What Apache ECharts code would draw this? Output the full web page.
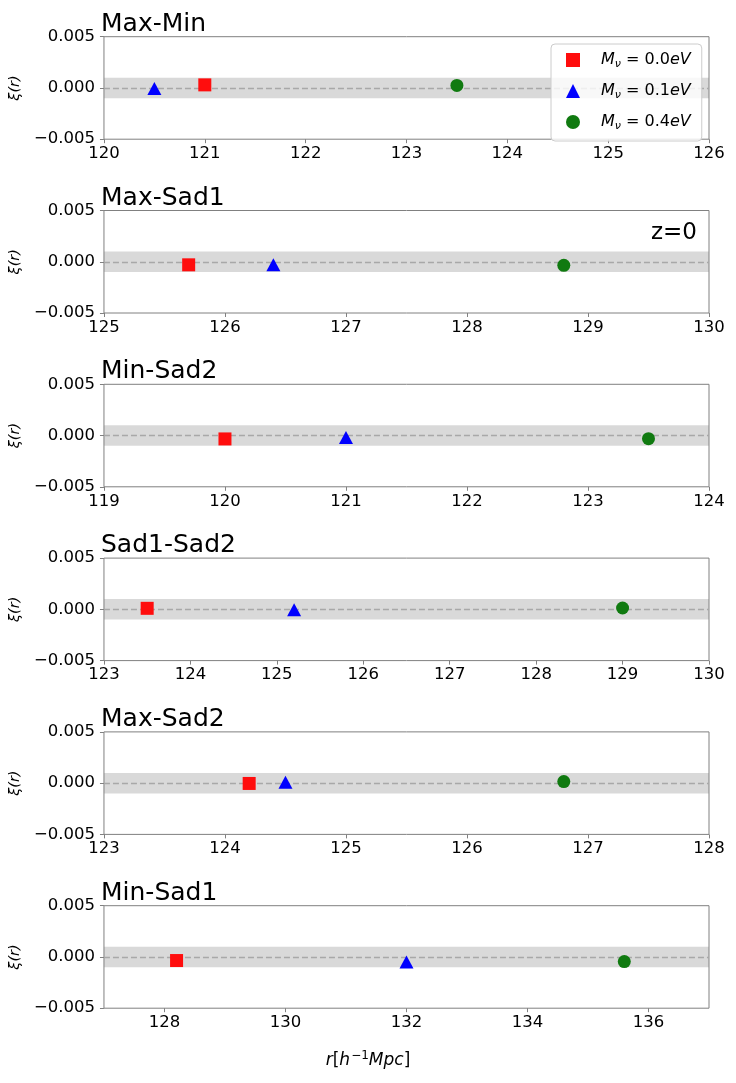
<!DOCTYPE html>
<html>
<head>
<meta charset="utf-8">
<script src="https://cdn.jsdelivr.net/npm/echarts@6/dist/echarts.min.js"></script>
<style>
html,body{margin:0;padding:0;background:#fff;}
#chart{width:736px;height:1083px;}
</style>
</head>
<body>
<div id="chart"></div>
<script>
// ---- data ----
const panelTitles = ['Max-Min', 'Max-Sad1', 'Min-Sad2', 'Sad1-Sad2', 'Max-Sad2', 'Min-Sad1'];
const xMin = [120, 125, 119, 123, 123, 127];
const xMax = [126, 130, 124, 130, 128, 137];
const xTicks = [
  [120, 121, 122, 123, 124, 125, 126],
  [125, 126, 127, 128, 129, 130],
  [119, 120, 121, 122, 123, 124],
  [123, 124, 125, 126, 127, 128, 129, 130],
  [123, 124, 125, 126, 127, 128],
  [128, 130, 132, 134, 136]
];
const yTicks = [-0.005, 0.0, 0.005];
// M_nu = 0.0 eV (red squares)
const r00  = [121.0, 125.7, 120.0, 123.5, 124.2, 128.2];
const xi00 = [0.0003, -0.0003, -0.00033, 0.0001, -0.00003, -0.00035];
// M_nu = 0.1 eV (blue triangles)
const r01  = [120.5, 126.4, 121.0, 125.2, 124.5, 132.0];
const xi01 = [-0.00005, -0.0003, -0.0002, -0.00005, 0.0001, -0.0005];
// M_nu = 0.4 eV (green circles)
const r04  = [123.5, 128.8, 123.5, 129.0, 126.8, 135.6];
const xi04 = [0.00025, -0.00035, -0.0003, 0.00013, 0.00015, -0.00045];
const bandLow = -0.001, bandHigh = 0.001;
const seriesNames = ['M0.0', 'M0.1', 'M0.4'];
const legendValues = ['0.0', '0.1', '0.4'];

// ---- layout ----
const FONT = 'DejaVu Sans';
const gridLeft = 98, gridWidth = 611, gridHeight = 102.5;
const gridTops = [36.7, 210.5, 384.3, 558.1, 731.9, 905.7];
const spine = '#808080';

const grids = [], xAxes = [], yAxes = [], series = [], titles = [];
panelTitles.forEach((t, i) => {
  grids.push({left: gridLeft, top: gridTops[i], width: gridWidth, height: gridHeight,
    show: true, borderColor: spine, borderWidth: 1, backgroundColor: 'transparent'});
  titles.push({text: t, left: gridLeft - 2, top: gridTops[i] - 30,
    textStyle: {fontFamily: FONT, fontSize: 25, fontWeight: 'normal', color: '#000'}});
  xAxes.push({type: 'value', gridIndex: i, min: xMin[i], max: xMax[i],
    axisLine: {show: false, onZero: false},
    axisTick: {show: true, length: 4, lineStyle: {color: spine}, customValues: xTicks[i]},
    axisLabel: {fontFamily: FONT, fontSize: 16.5, color: '#000', margin: 6, customValues: xTicks[i],
      showMinLabel: true, showMaxLabel: true},
    splitLine: {show: false}});
  yAxes.push({type: 'value', gridIndex: i, min: yTicks[0], max: yTicks[2], interval: yTicks[2],
    name: 'ξ(r)', nameLocation: 'middle', nameGap: 80, nameRotate: 90,
    nameTextStyle: {fontFamily: FONT, fontSize: 14.5, fontStyle: 'italic', color: '#000'},
    axisLine: {show: false, onZero: false},
    axisTick: {show: true, length: 4, lineStyle: {color: spine}},
    axisLabel: {fontFamily: FONT, fontSize: 16.5, color: '#000', margin: 9,
      formatter: v => (Math.abs(v) < 1e-12 ? '0.000' : (v < 0 ? '\u2212' : '') + Math.abs(v).toFixed(3))},
    splitLine: {show: false}});
  // band + zero line carrier
  series.push({type: 'scatter', name: '_band' + i, xAxisIndex: i, yAxisIndex: i, data: [], silent: true, z: 1,
    markArea: {silent: true, z: 1, itemStyle: {color: 'rgba(128,128,128,0.3)'},
      data: [[{yAxis: bandLow}, {yAxis: bandHigh}]]},
    markLine: {silent: true, z: 2, symbol: 'none', label: {show: false},
      lineStyle: {color: '#a8a8a8', type: [6, 3], width: 1.3},
      data: [{yAxis: 0}]}});
  series.push({type: 'scatter', name: seriesNames[0], xAxisIndex: i, yAxisIndex: i, z: 5,
    symbol: 'rect', symbolSize: 13,
    itemStyle: {color: '#ff0d0d', opacity: 1},
    data: [[r00[i], xi00[i]]]});
  series.push({type: 'scatter', name: seriesNames[1], xAxisIndex: i, yAxisIndex: i, z: 5,
    symbol: 'triangle', symbolSize: [14, 13], itemStyle: {color: '#0000ff', opacity: 1},
    data: [[r01[i], xi01[i]]]});
  series.push({type: 'scatter', name: seriesNames[2], xAxisIndex: i, yAxisIndex: i, z: 5,
    symbol: 'circle', symbolSize: 13, itemStyle: {color: '#107a10', opacity: 1},
    data: [[r04[i], xi04[i]]]});
});

const chart = echarts.init(document.getElementById('chart'), null, {renderer: 'canvas'});
chart.setOption({
  animation: false,
  backgroundColor: '#fff',
  title: titles,
  grid: grids,
  xAxis: xAxes,
  yAxis: yAxes,
  legend: {
    data: seriesNames.map(n => ({name: n})),
    orient: 'vertical', left: 551, top: 44, z: 10,
    padding: [8, 11, 9, 15], itemGap: 13, itemWidth: 14, itemHeight: 14,
    backgroundColor: 'rgba(255,255,255,0.8)', borderColor: '#cccccc', borderWidth: 1, borderRadius: 4,
    selectedMode: false,
    formatter: n => '{i|M}{s|ν}{t| = ' + legendValues[seriesNames.indexOf(n)] + '}{i|eV}',
    textStyle: {padding: [0, 0, 0, 16], fontFamily: FONT, fontSize: 16, color: '#000',
      rich: {
        i: {fontFamily: FONT, fontSize: 16, fontStyle: 'italic', color: '#000'},
        s: {fontFamily: FONT, fontSize: 11, fontStyle: 'italic', color: '#000', padding: [9, 0, 0, 0]},
        t: {fontFamily: FONT, fontSize: 16, color: '#000'}
      }}
  },
  graphic: [
    {type: 'text', right: 736 - 697, top: 222,
      style: {text: 'z=0', font: '23px "DejaVu Sans"', fill: '#000'}},
    {type: 'text', left: 'center', top: 1050,
      style: {text: '{i|r}[{i|h}{sup|\u22121}{i|Mpc}]', font: '17px "DejaVu Sans"', fill: '#000',
        rich: {
          i: {fontFamily: FONT, fontSize: 17, fontStyle: 'italic', fill: '#000'},
          sup: {fontFamily: FONT, fontSize: 12, fill: '#000', padding: [0, 0, 9, 1]}
        }}}
  ],
  series: series
});
</script>
</body>
</html>
